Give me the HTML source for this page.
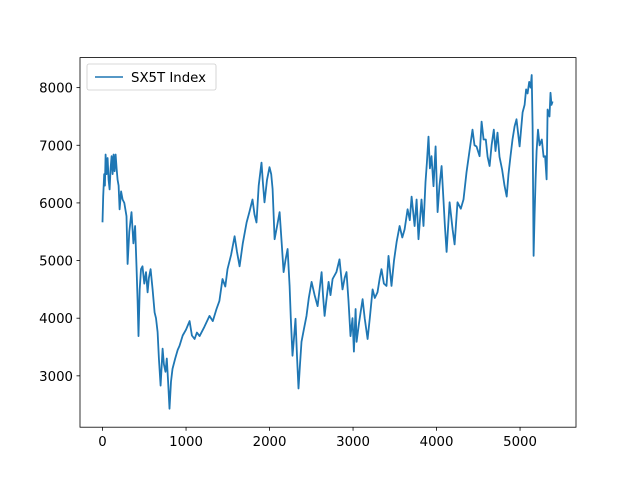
<!DOCTYPE html>
<html><head><meta charset="utf-8"><style>
body{margin:0;background:#fff;}
svg text{font-family:"DejaVu Sans","Liberation Sans",sans-serif;font-size:13.3px;fill:#000;}
</style></head><body>
<svg id="chart" width="640" height="480" xmlns="http://www.w3.org/2000/svg">
<rect width="640" height="480" fill="#fff"/>
<g id="plot"></g>
<rect x="80" y="57.6" width="496" height="369.6" fill="none" stroke="#000" stroke-width="0.8"/>
<g id="xticks"></g><g id="yticks"></g>
<g>
<rect x="87" y="64" width="129" height="26" rx="2" fill="#fff" fill-opacity="0.8" stroke="#ccc" stroke-width="0.8"/>
<line x1="95" y1="77" x2="123" y2="77" stroke="#1f77b4" stroke-width="1.5"/>
<text x="131" y="82">SX5T Index</text>
</g>
</svg>
<script>
const idx=[0,8,20,28,36,48,60,72,84,96,108,120,132,144,156,168,180,192,204,222,240,260,287,300,320,347,370,390,407,420,431,445,460,479,500,520,539,555,575,600,623,640,659,675,695,719,735,754,770,785,802,820,838,870,900,922,960,1000,1042,1070,1102,1130,1162,1220,1281,1320,1365,1400,1437,1470,1497,1540,1581,1610,1641,1680,1725,1760,1796,1820,1844,1870,1904,1920,1940,1970,2000,2020,2036,2060,2090,2120,2145,2168,2190,2216,2240,2255,2275,2295,2311,2330,2347,2365,2383,2410,2443,2470,2503,2540,2575,2600,2623,2640,2659,2680,2707,2730,2755,2800,2838,2874,2900,2922,2945,2970,2994,3010,3030,3042,3070,3090,3114,3140,3174,3200,3234,3260,3293,3320,3341,3370,3401,3425,3461,3490,3521,3557,3590,3617,3653,3680,3701,3737,3761,3784,3820,3844,3868,3885,3904,3920,3940,3964,3988,4012,4035,4060,4084,4100,4120,4156,4192,4216,4251,4290,4323,4359,4395,4431,4455,4479,4515,4540,4563,4590,4611,4635,4659,4685,4706,4730,4754,4785,4814,4840,4862,4885,4910,4935,4958,4994,5030,5054,5072,5090,5110,5126,5140,5150,5162,5174,5186,5198,5215,5234,5260,5282,5300,5318,5330,5353,5365,5377,5390,5401];
const vals=[5664,6115,6500,6300,6840,6500,6780,6400,6235,6600,6810,6500,6840,6550,6840,6600,6400,6300,5890,6200,6060,6000,5770,4940,5500,5840,5300,5600,4900,4300,3690,4500,4850,4900,4600,4800,4450,4700,4850,4500,4100,4000,3760,3300,2830,3470,3200,3070,3300,2900,2430,2900,3120,3300,3450,3520,3700,3800,3950,3700,3640,3750,3690,3850,4040,3950,4160,4300,4680,4550,4850,5100,5420,5150,4900,5300,5660,5850,6060,5800,5660,6300,6700,6350,6010,6400,6620,6500,6240,5370,5600,5840,5300,4800,5000,5200,4560,4000,3350,3700,3990,3300,2780,3200,3590,3800,4040,4350,4630,4400,4210,4500,4800,4400,4040,4300,4630,4400,4680,4800,5020,4500,4700,4800,4300,3690,4000,3420,4160,3590,3900,4100,4330,4000,3640,4000,4500,4350,4450,4700,4850,4600,4560,5080,4560,5000,5320,5600,5400,5540,5890,5700,6110,5600,6060,5370,6060,5600,6360,6700,7150,6600,6810,6290,6980,5840,6300,6640,6010,5600,5150,6010,5540,5280,6010,5900,6060,6530,6900,7270,7000,6980,6810,7410,7100,7100,6800,6640,7000,7270,6900,7220,6800,6580,6300,6110,6500,6810,7100,7330,7450,6980,7570,7700,7970,7900,8100,8000,8220,7330,5080,5800,6410,6900,7270,7000,7100,6800,6810,6410,7620,7500,7910,7700,7760];
const xTicks=[0,1000,2000,3000,4000,5000];
const yTicks=[3000,4000,5000,6000,7000,8000];
const X=v=>80+(v+270)/5940*496;
const Y=v=>427.2-(v-2109)/(8521-2109)*369.6;
const ns="http://www.w3.org/2000/svg";
const plot=document.getElementById('plot');
const p=document.createElementNS(ns,'path');
p.setAttribute('d',idx.map((x,i)=>(i?'L':'M')+X(x).toFixed(1)+','+Y(vals[i]).toFixed(1)).join(''));
p.setAttribute('fill','none');p.setAttribute('stroke','#1f77b4');p.setAttribute('stroke-width','1.8');p.setAttribute('stroke-linejoin','round');


plot.appendChild(p);
const xg=document.getElementById('xticks');
xTicks.forEach(t=>{
 const l=document.createElementNS(ns,'line');
 l.setAttribute('x1',X(t));l.setAttribute('x2',X(t));l.setAttribute('y1',427.2);l.setAttribute('y2',430.7);l.setAttribute('stroke','#000');l.setAttribute('stroke-width','0.8');
 
 
 xg.appendChild(l);
 const tx=document.createElementNS(ns,'text');
 tx.setAttribute('x',X(t));tx.setAttribute('y',446);tx.setAttribute('text-anchor','middle');tx.textContent=t;
 
 
 xg.appendChild(tx);
});
const yg=document.getElementById('yticks');
yTicks.forEach(t=>{
 const l=document.createElementNS(ns,'line');
 l.setAttribute('x1',76.5);l.setAttribute('x2',80);l.setAttribute('y1',Y(t));l.setAttribute('y2',Y(t));l.setAttribute('stroke','#000');l.setAttribute('stroke-width','0.8');
 
 
 yg.appendChild(l);
 const tx=document.createElementNS(ns,'text');
 tx.setAttribute('x',73);tx.setAttribute('y',Y(t)+5);tx.setAttribute('text-anchor','end');tx.textContent=t;
 
 
 yg.appendChild(tx);
});
</script>
</body></html>
